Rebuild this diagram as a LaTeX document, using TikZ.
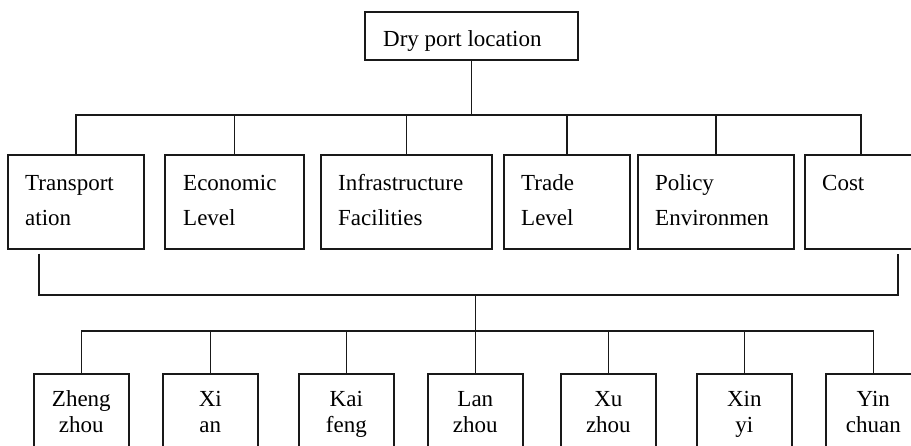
\documentclass[tikz,border=0pt]{standalone}
\usepackage{fontspec}
\setmainfont{Liberation Serif}
\usetikzlibrary{calc}
\begin{document}
\begin{tikzpicture}[x=1pt,y=-1pt,
  ln/.style={line width=1.7pt,draw=black!90},
  boxA/.style={ln,rectangle,anchor=north west,inner sep=0pt,minimum width=213pt,minimum height=48pt},
  boxB/.style={ln,rectangle,anchor=north west,inner sep=0pt,minimum height=94pt},
  boxC/.style={ln,rectangle,anchor=north west,inner sep=0pt,minimum width=95pt,minimum height=110pt},
  txtA/.style={inner sep=0pt,anchor=base west,font=\fontsize{23}{28}\selectfont},
  txtB/.style={inner sep=0pt,anchor=north west,align=left,font=\fontsize{23}{35}\selectfont},
  txtC/.style={inner sep=0pt,anchor=north,align=center,font=\fontsize{23}{26}\selectfont}]
\useasboundingbox (0,0) rectangle (911,445);
\clip (0,0) rectangle (911,445);
% top
\node[boxA] (top) at (364,11) {};
\node[txtA] (toptxt) at ($(top.north west)+(19,35)$) {Dry port location};
% row 2
\node[boxB,minimum width=136pt] (b1) at (7,154) {};
\node[boxB,minimum width=139pt] (b2) at (164,154) {};
\node[boxB,minimum width=171pt] (b3) at (320,154) {};
\node[boxB,minimum width=126pt] (b4) at (503,154) {};
\node[boxB,minimum width=156pt] (b5) at (637,154) {};
\node[boxB,minimum width=112pt] (b6) at (804,154) {};
\node[txtB] (t1) at ($(b1.north west)+(18,11.5)$) {\strut Transport\\ation};
\node[txtB] (t2) at ($(b2.north west)+(19,11.5)$) {\strut Economic\\Level};
\node[txtB] (t3) at ($(b3.north west)+(18,11.5)$) {\strut Infrastructure\\Facilities};
\node[txtB] (t4) at ($(b4.north west)+(18,11.5)$) {\strut Trade\\Level};
\node[txtB] (t5) at ($(b5.north west)+(18,11.5)$) {\strut Policy\\Environmen};
\node[txtB] (t6) at ($(b6.north west)+(18,11.5)$) {\strut Cost};
% row 3
\node[boxC] (c1) at (33,373) {};
\node[boxC] (c2) at (162,373) {};
\node[boxC] (c3) at (298,373) {};
\node[boxC] (c4) at (427,373) {};
\node[boxC] (c5) at (560,373) {};
\node[boxC] (c6) at (696,373) {};
\node[boxC] (c7) at (825,373) {};
\node[txtC] (d1) at ($(c1.north)+(0,14.8)$) {\strut Zheng\\zhou};
\node[txtC] (d2) at ($(c2.north)+(0,14.8)$) {\strut Xi\\an};
\node[txtC] (d3) at ($(c3.north)+(0,14.8)$) {\strut Kai\\feng};
\node[txtC] (d4) at ($(c4.north)+(0,14.8)$) {\strut Lan\\zhou};
\node[txtC] (d5) at ($(c5.north)+(0,14.8)$) {\strut Xu\\zhou};
\node[txtC] (d6) at ($(c6.north)+(0,14.8)$) {\strut Xin\\yi};
\node[txtC] (d7) at ($(c7.north)+(0,14.8)$) {\strut Yin\\chuan};
% top tree
\coordinate (j1) at ($(top.south)+(0,54)$);
\draw[ln] (top.south) -- (j1);
\draw[ln] (b1.north) |- (j1);
\draw[ln] (b6.north) |- (j1);
\foreach \b in {b2,b3,b4,b5} \draw[ln] (\b.north) -- (\b.north |- j1);
% middle connector
\coordinate (bl) at ($(b1.south west)+(32,4)$);
\coordinate (br) at ($(b6.south west)+(94,4)$);
\coordinate (m1) at ($(bl)+(0,41)$);
\draw[ln] (bl) -- (m1) -| (br);
\coordinate (j2) at ($(c4.north)+(0,-42)$);
\draw[ln] (c4.north |- m1) -- (c4.north);
\draw[ln] (c1.north) |- (j2);
\draw[ln] (c7.north) |- (j2);
\foreach \c in {c2,c3,c5,c6} \draw[ln] (\c.north) -- (\c.north |- j2);
\end{tikzpicture}
\end{document}
